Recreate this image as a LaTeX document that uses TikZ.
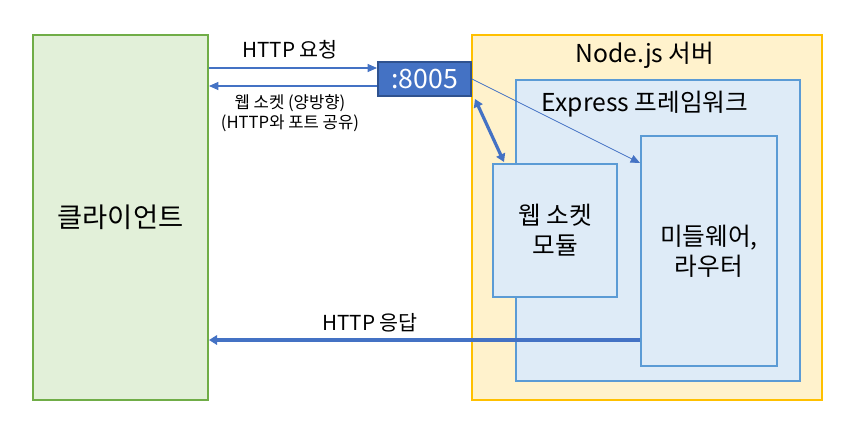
\documentclass[tikz,border=0pt]{standalone}
\usepackage{fontspec}
\setmainfont{Noto Sans CJK KR}
\usetikzlibrary{arrows.meta,fit}

\definecolor{clientfill}{HTML}{E2F0D9}
\definecolor{clientline}{HTML}{70AD47}
\definecolor{serverfill}{HTML}{FFF2CC}
\definecolor{serverline}{HTML}{FFC000}
\definecolor{expfill}{HTML}{DEEBF7}
\definecolor{expline}{HTML}{5B9BD5}
\definecolor{portfill}{HTML}{4472C4}
\definecolor{portline}{HTML}{2F528F}

\tikzset{
  box/.style={draw, line width=1.5pt, inner sep=0pt},
  clientbox/.style={box, draw=clientline, fill=clientfill},
  serverbox/.style={box, draw=serverline, fill=serverfill},
  expbox/.style={box, draw=expline, fill=expfill},
  portbox/.style={box, draw=portline, fill=portfill},
  thinarrow/.style={draw=portfill, line width=0.8pt, -{Triangle[length=7pt,width=6pt]}},
  thickarrow/.style={draw=portfill, line width=2.4pt, -{Triangle[length=6pt,width=7pt]}},
  lbl/.style={font=\fontsize{15.5}{18}\selectfont, align=center},
  small/.style={font=\fontsize{12.5}{15}\selectfont, align=center},
  big/.style={font=\fontsize{18.5}{22.5}\selectfont, align=center}
}

\begin{document}
\begin{tikzpicture}[x=0.75pt,y=-0.75pt]
  \fill[white] (0,0) rectangle (850,436);
  \useasboundingbox (0,0) rectangle (850,436);

  % client and server boxes
  \node[clientbox, fit={(33,35)(208,400)}] (client) {};
  \node[big, font=\fontsize{20.5}{24}\selectfont] at (client) {클라이언트};
  \node[serverbox, fit={(472,35)(822,400)}] (server) {};
  \node[big] (servertxt) at (645,55) {Node.js 서버};
  \node[expbox, fit={(516,80)(800,381)}] (express) {};
  \node[big] (exptxt) at (645,104) {Express 프레임워크};
  \node[expbox, fit={(493,164)(617,297)}] (ws) {};
  \node[big] at (ws) {웹 소켓\\모듈};
  \node[expbox, fit={(641,136)(777,366)}] (mid) {};
  \node[big] at (mid) {미들웨어,\\라우터};

  % port
  \node[portbox, fit={(378,62)(471,96)}] (port) {};
  \node[big, font=\fontsize{20}{24}\selectfont, text=white] at (port) {:8005};

  % arrows
  \draw[thinarrow] (client.east |- 0,68) -- (port.west |- 0,68);
  \node[lbl] (req) at (290,50) {HTTP 요청};
  \draw[thinarrow] (port.west |- 0,86) -- (client.east |- 0,86);
  \node[small] (wstxt) at (290,113) {웹 소켓 (양방향)\\(HTTP와 포트 공유)};
  \draw[draw=portfill, line width=0.6pt, -{Triangle[length=7pt,width=6pt]}]
    (port.east) -- (mid.west |- 0,163);
  \draw[thickarrow, {Triangle[length=6pt,width=7pt]}-{Triangle[length=6pt,width=7pt]}]
    (475,99) -- (504,162);
  \draw[thickarrow] (mid.west |- 0,340) -- (client.east |- 0,340);
  \node[lbl] (res) at (370,323) {HTTP 응답};
\end{tikzpicture}
\end{document}
